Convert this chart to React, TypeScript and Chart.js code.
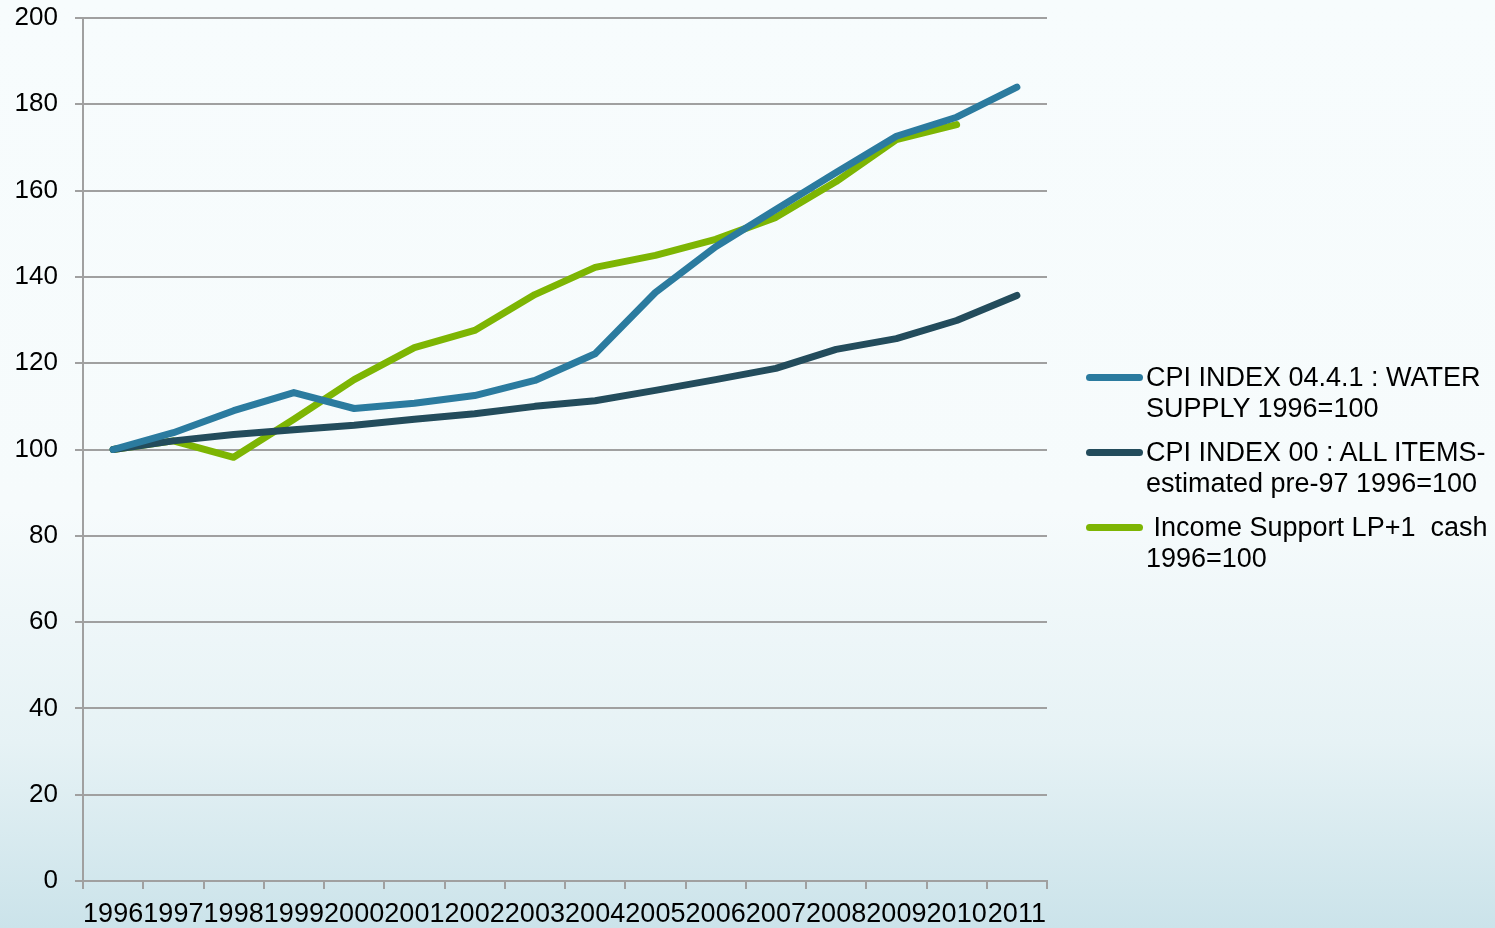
import React, { useEffect, useRef } from "react";
import { Chart, registerables } from "chart.js";

Chart.register(...registerables);

const years = ["1996", "1997", "1998", "1999", "2000", "2001", "2002", "2003", "2004", "2005", "2006", "2007", "2008", "2009", "2010", "2011"];
const waterSupply = [100, 103.9, 109, 113.2, 109.5, 110.7, 112.5, 116, 122.2, 136.4, 147, 155.6, 164.2, 172.6, 177, 184];
const allItems = [100, 102, 103.5, 104.6, 105.6, 107, 108.3, 110, 111.3, 113.7, 116.2, 118.8, 123.2, 125.7, 129.9, 135.7];
const incomeSupport = [100, 102, 98.2, 107, 116.2, 123.6, 127.6, 135.9, 142.2, 145, 148.7, 153.8, 162.1, 171.8, 175.3, null];

const seriesNames = [
  ["CPI INDEX 04.4.1 : WATER", "SUPPLY 1996=100"],
  ["CPI INDEX 00 : ALL ITEMS-", "estimated pre-97 1996=100"],
  [" Income Support LP+1  cash", "1996=100"],
];
const colors = ["#2b7b9f", "#234c5c", "#7db503"];

const FONT = "'Liberation Sans', Arial, sans-serif";

export default function App() {
  const ref = useRef<HTMLCanvasElement | null>(null);

  useEffect(() => {
    if (!ref.current) return;
    const chart = new Chart(ref.current, {
      type: "line",
      data: {
        labels: years,
        datasets: [
          { label: seriesNames[0].join(" "), data: waterSupply, borderColor: colors[0], backgroundColor: colors[0] },
          { label: seriesNames[1].join(" "), data: allItems, borderColor: colors[1], backgroundColor: colors[1] },
          { label: seriesNames[2].join(" "), data: incomeSupport, borderColor: colors[2], backgroundColor: colors[2] },
        ].map((d) => ({
          ...d,
          borderWidth: 7,
          pointRadius: 0,
          tension: 0,
          fill: false,
          borderCapStyle: "round" as const,
          borderJoinStyle: "round" as const,
          spanGaps: false,
        })),
      },
      options: {
        responsive: false,
        animation: false,
        layout: { padding: { left: 0, right: 448, top: 18, bottom: 0 } },
        plugins: { legend: { display: false }, tooltip: { enabled: false } },
        scales: {
          x: {
            offset: true,
            grid: {
              offset: true,
              drawOnChartArea: false,
              drawTicks: true,
              tickLength: 8,
              color: "#a0a0a0",
              lineWidth: 2,
            },
            border: { color: "#a0a0a0", width: 2 },
            ticks: {
              color: "#000",
              font: { family: FONT, size: 27 },
              padding: 9,
              maxRotation: 0,
              autoSkip: false,
            },
            afterFit: (scale: any) => {
              scale.height = 47;
              scale.paddingLeft = 0;
              scale.paddingRight = 0;
            },
          },
          y: {
            min: 0,
            max: 200,
            grid: { color: "#a0a0a0", lineWidth: 2, tickLength: 8 },
            border: { color: "#a0a0a0", width: 2 },
            ticks: {
              stepSize: 20,
              color: "#000",
              font: { family: FONT, size: 26 },
              padding: 17,
            },
            afterFit: (scale: any) => {
              scale.width = 83;
              scale.paddingTop = 0;
              scale.paddingBottom = 0;
            },
          },
        },
      },
    });
    return () => chart.destroy();
  }, []);

  const legendTops = [362, 437, 512];

  return (
    <div
      style={{
        position: "fixed",
        left: 0,
        top: 0,
        width: 1495,
        height: 928,
        background: "linear-gradient(to bottom, #f7fcfd 0%, #f6fbfc 55%, #e6f2f5 80%, #cbe3ea 100%)",
        overflow: "hidden",
      }}
    >
      <canvas ref={ref} width={1495} height={928} style={{ display: "block", position: "absolute", left: 0, top: 0 }} />
      {seriesNames.map((lines, i) => (
        <div key={i} style={{ position: "absolute", left: 1086, top: legendTops[i] }}>
          <div
            style={{
              position: "absolute",
              left: 0,
              top: 12,
              width: 57,
              height: 7,
              borderRadius: 3.5,
              background: colors[i],
            }}
          />
          <div
            style={{
              position: "absolute",
              left: 60,
              top: 0,
              fontFamily: FONT,
              fontSize: 27,
              lineHeight: "31px",
              color: "#000",
              whiteSpace: "pre",
            }}
          >
            {lines[0]}
            {"\n"}
            {lines[1]}
          </div>
        </div>
      ))}
    </div>
  );
}
